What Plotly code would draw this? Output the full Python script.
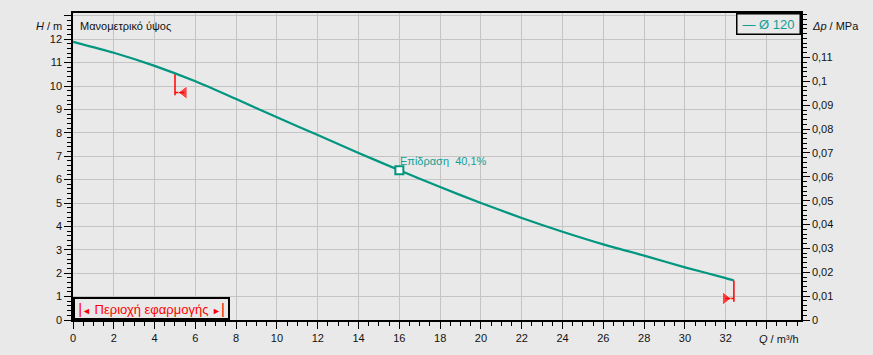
import plotly.graph_objects as go

# ---- data ----
flow_q = [0, 2, 4, 6, 8, 10, 12, 14, 16, 18, 20, 22, 24, 26, 28, 30, 32, 32.4]
head_h = [11.89, 11.42, 10.86, 10.20, 9.44, 8.66, 7.91, 7.14, 6.40, 5.68, 5.00, 4.36, 3.77, 3.23, 2.75, 2.25, 1.79, 1.69]

duty_q = [16]
duty_h = [6.40]
duty_label = "Επίδραση\u00a0\u00a040,1%"

left_limit_line_q = [5.0, 5.0]
left_limit_line_h = [10.50, 9.60]
left_flag_q = [5.0, 5.45]
left_flag_h = [9.72, 9.72]

right_limit_line_q = [32.4, 32.4]
right_limit_line_h = [1.69, 0.78]
right_flag_q = [32.4, 31.98]
right_flag_h = [0.92, 0.92]

x_ticks = list(range(0, 36, 2))
x_labels = [str(v) if v <= 32 else "" for v in x_ticks]
y_ticks = list(range(0, 14))
y_labels = [str(v) if v <= 12 else "" for v in y_ticks]
p_ticks = [0, 0.01, 0.02, 0.03, 0.04, 0.05, 0.06, 0.07, 0.08, 0.09, 0.10, 0.11]
p_labels = ["0", "0,01", "0,02", "0,03", "0,04", "0,05", "0,06", "0,07", "0,08", "0,09", "0,1", "0,11"]

legend_name = "Ø 120"
M_TO_MPA = 0.0098067
X_MAX = 35.69
Y_MAX = 13.12

TEAL = "#00967f"
TEAL_TXT = "#12a096"
RED = "#ff0000"
BG = "#e9e9e9"
GRID = "#c4c4c4"
FONT = "Liberation Sans, Arial, sans-serif"

fig = go.Figure()

fig.add_trace(go.Scatter(x=flow_q, y=head_h, mode="lines", line_shape="spline",
                         line=dict(color=TEAL, width=2.2, smoothing=0.6), name=legend_name,
                         showlegend=False, hoverinfo="skip"))

for lq, lh in [(left_limit_line_q, left_limit_line_h), (right_limit_line_q, right_limit_line_h)]:
    fig.add_trace(go.Scatter(x=lq, y=lh, mode="lines", line=dict(color=RED, width=1.5),
                             showlegend=False, hoverinfo="skip"))

fig.add_trace(go.Scatter(x=left_flag_q, y=left_flag_h, mode="lines+markers",
                         line=dict(color=RED, width=1.5),
                         marker=dict(symbol="triangle-left", size=[0, 12], color=RED),
                         showlegend=False, hoverinfo="skip"))
fig.add_trace(go.Scatter(x=right_flag_q, y=right_flag_h, mode="lines+markers",
                         line=dict(color=RED, width=1.5),
                         marker=dict(symbol="triangle-right", size=[0, 12], color=RED),
                         showlegend=False, hoverinfo="skip"))

fig.add_trace(go.Scatter(x=duty_q, y=duty_h, mode="markers",
                         marker=dict(symbol="square", size=8, color="#ffffff",
                                     line=dict(color=TEAL, width=2)),
                         showlegend=False, hoverinfo="skip"))

# pressure axis trace (converted head), invisible
fig.add_trace(go.Scatter(x=flow_q, y=[h * M_TO_MPA for h in head_h], yaxis="y2",
                         mode="lines", line=dict(color="rgba(0,0,0,0)", width=0),
                         showlegend=False, hoverinfo="skip"))

tickfont = dict(family=FONT, size=11, color="#111111")

fig.update_layout(
    width=873, height=355,
    margin=dict(l=73, r=72, t=11, b=33, pad=0),
    paper_bgcolor=BG, plot_bgcolor=BG,
    font=dict(family=FONT, size=11, color="#111111"),
    xaxis=dict(range=[0, X_MAX], tickmode="array", tickvals=x_ticks, ticktext=x_labels,
               showgrid=True, gridcolor=GRID, gridwidth=1, zeroline=False,
               ticks="outside", ticklen=7, tickwidth=1, tickcolor="black",
               showline=True, linecolor="black", linewidth=1.5, mirror=True,
               tickfont=tickfont,
               minor=dict(tick0=0, dtick=0.5, ticks="outside", ticklen=4, tickcolor="black",
                          showgrid=False)),
    yaxis=dict(range=[0, Y_MAX], tickmode="array", tickvals=y_ticks, ticktext=y_labels,
               showgrid=True, gridcolor=GRID, gridwidth=1, zeroline=False,
               ticks="outside", ticklen=7, tickwidth=1, tickcolor="black",
               showline=True, linecolor="black", linewidth=1.5, mirror=True,
               tickfont=tickfont,
               minor=dict(tick0=0, dtick=0.2, ticks="outside", ticklen=4, tickcolor="black",
                          showgrid=False)),
    yaxis2=dict(range=[0, Y_MAX * M_TO_MPA], overlaying="y", side="right",
                tickmode="array", tickvals=p_ticks, ticktext=p_labels,
                showgrid=False, zeroline=False,
                ticks="outside", ticklen=7, tickwidth=1, tickcolor="black",
                showline=True, linecolor="black", linewidth=1.5,
                tickfont=tickfont,
                minor=dict(tick0=0, dtick=0.002, ticks="outside", ticklen=4, tickcolor="black",
                           showgrid=False)),
)

ann = []
ann.append(dict(text="Μανομετρικό ύψος", xref="paper", yref="paper", x=0, y=1,
                xanchor="left", yanchor="middle", xshift=5, yshift=-13, showarrow=False,
                font=dict(family=FONT, size=11, color="#111111")))
ann.append(dict(text="<i>H</i> / m", xref="paper", yref="paper", x=0, y=1,
                xanchor="right", yanchor="middle", xshift=-9, yshift=-13, showarrow=False,
                font=dict(family=FONT, size=11, color="#111111")))
ann.append(dict(text="<i>Δp</i> / MPa", xref="paper", yref="paper", x=1, y=1,
                xanchor="left", yanchor="middle", xshift=9, yshift=-13, showarrow=False,
                font=dict(family=FONT, size=11, color="#111111")))
ann.append(dict(text="<i>Q</i> / m³/h", xref="paper", yref="paper", x=1, y=0,
                xanchor="right", yanchor="middle", xshift=0, yshift=-19, showarrow=False,
                font=dict(family=FONT, size=11, color="#111111")))
ann.append(dict(text="— " + legend_name, xref="paper", yref="paper", x=1, y=1,
                xanchor="right", yanchor="top", showarrow=False,
                width=62, height=19, bgcolor=BG, bordercolor="black", borderwidth=1.5, borderpad=0,
                font=dict(family=FONT, size=13, color=TEAL_TXT)))
ann.append(dict(text="<span style='font-size:15px'>|</span><span style='font-size:9px'>◄</span> Περιοχή εφαρμογής <span style='font-size:9px'>►</span><span style='font-size:15px'>|</span>",
                xref="paper", yref="paper", x=0, y=0,
                xanchor="left", yanchor="bottom", showarrow=False,
                width=153, height=19, bgcolor=BG, bordercolor="black", borderwidth=2, borderpad=0,
                font=dict(family=FONT, size=13, color=RED)))
ann.append(dict(text=duty_label, xref="x", yref="y", x=duty_q[0], y=duty_h[0],
                xanchor="left", yanchor="bottom", xshift=-1, yshift=1, showarrow=False,
                font=dict(family=FONT, size=11, color=TEAL_TXT)))
fig.update_layout(annotations=ann)

fig.write_html("out.html")
